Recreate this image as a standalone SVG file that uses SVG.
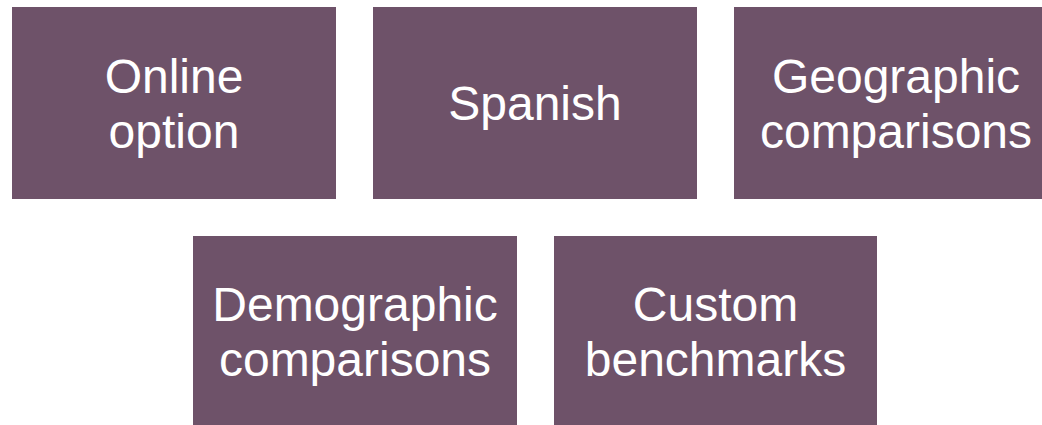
<svg xmlns="http://www.w3.org/2000/svg" width="1042" height="425" viewBox="0 0 1042 425">
<style>
.box{fill:#6E5269;}
.t{font-family:"Liberation Sans",Arial,sans-serif;font-size:48px;fill:#ffffff;text-anchor:middle;}
</style>
<rect width="1042" height="425" fill="#ffffff"/>
<g id="connectors"></g>
<g id="online">
<rect class="box" x="12" y="7" width="324" height="192"/>
<text class="t" x="174" y="93">Online</text>
<text class="t" x="174" y="148">option</text>
</g>
<g id="spanish">
<rect class="box" x="373" y="7" width="324" height="192"/>
<text class="t" x="535" y="120">Spanish</text>
</g>
<g id="geographic">
<rect class="box" x="734" y="7" width="308" height="192"/>
<text class="t" x="896" y="93">Geographic</text>
<text class="t" x="896" y="148">comparisons</text>
</g>
<g id="demographic">
<rect class="box" x="193" y="236" width="324" height="189"/>
<text class="t" x="355" y="321">Demographic</text>
<text class="t" x="355" y="376">comparisons</text>
</g>
<g id="custom">
<rect class="box" x="554" y="236" width="323" height="189"/>
<text class="t" x="715.5" y="321">Custom</text>
<text class="t" x="715.5" y="376">benchmarks</text>
</g>
</svg>
